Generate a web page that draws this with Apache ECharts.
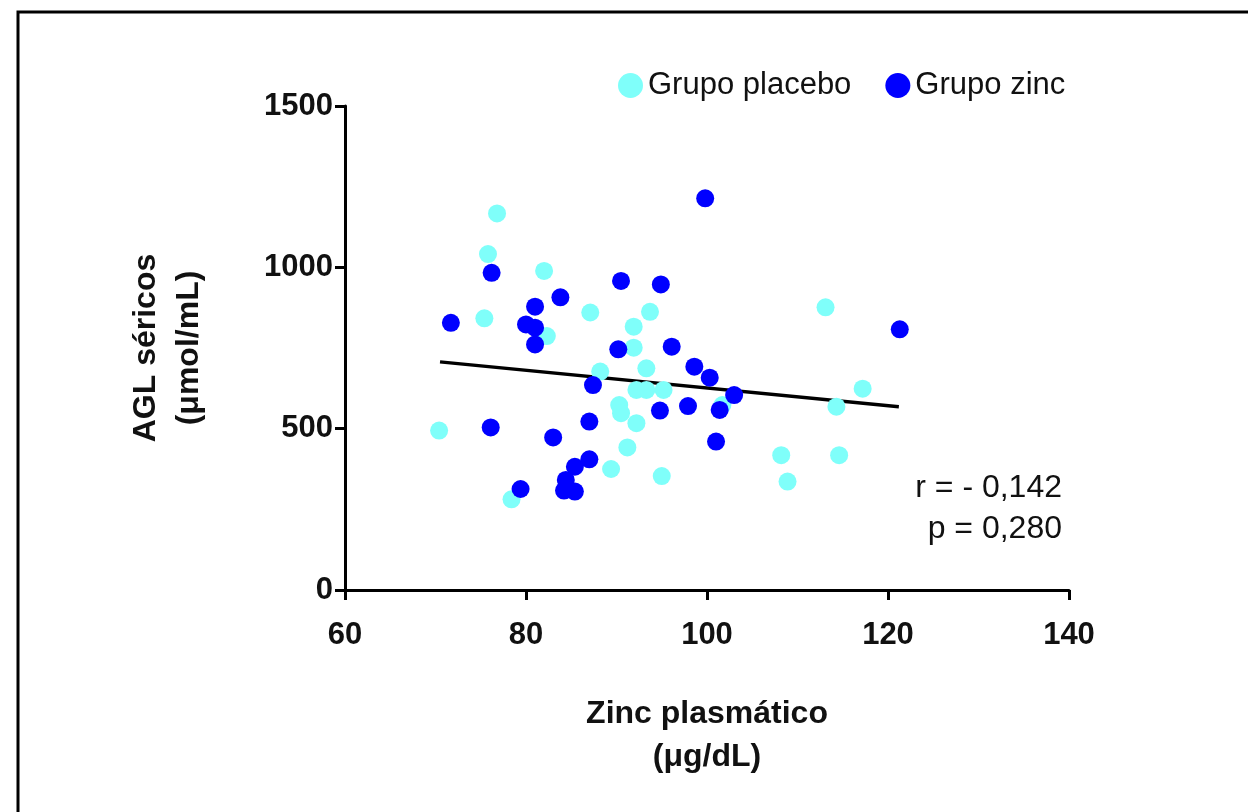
<!DOCTYPE html>
<html>
<head>
<meta charset="utf-8">
<script src="https://cdn.jsdelivr.net/npm/echarts@6/dist/echarts.min.js"></script>
<style>
  html, body { margin: 0; padding: 0; background: #fff; }
  #chart { width: 1248px; height: 812px; }
</style>
</head>
<body>
<div id="chart"></div>
<script>
// ---- Data ----
const placeboX = [76.8, 75.8, 82.0, 87.1, 75.4, 82.3, 91.9, 91.9, 88.2, 93.7, 93.3, 113.1, 92.2, 93.3, 95.2, 101.7, 114.3, 117.2, 108.2, 114.6, 95.0, 108.9, 90.3, 90.5, 92.2, 70.4, 91.2, 89.4, 78.4];
const placeboY = [1167, 1041, 989, 860, 842, 787, 816, 751, 677, 862, 687, 876, 620, 620, 620, 573, 568, 624, 418, 418, 353, 336, 573, 548, 517, 494, 442, 375, 281];
const zincX = [76.2, 90.5, 83.8, 81.0, 71.7, 80.0, 81.0, 81.0, 90.2, 99.8, 94.9, 96.1, 98.6, 100.3, 121.3, 103.0, 94.8, 97.9, 101.4, 101.0, 87.4, 87.0, 76.1, 83.0, 87.0, 85.4, 84.4, 84.2, 85.4, 79.4];
const zincY = [983, 958, 907, 878, 828, 823, 813, 761, 746, 1214, 947, 754, 692, 658, 808, 604, 556, 570, 558, 460, 635, 522, 504, 473, 405, 382, 341, 308, 305, 313];
const trendX = [70.5, 121.2];
const trendY = [707, 568];
const seriesNames = ['Grupo placebo', 'Grupo zinc'];
const xTitle = 'Zinc plasmático\n(μg/dL)';
const yTitle = 'AGL séricos\n(μmol/mL)';
const statLines = ['r = - 0,142', 'p = 0,280'];

const zip = (xs, ys) => xs.map((x, i) => [x, ys[i]]);

const FONT = '"Liberation Sans", Arial, Helvetica, sans-serif';
const chart = echarts.init(document.getElementById('chart'), null, { renderer: 'canvas' });

const axisCommon = {
  type: 'value',
  splitLine: { show: false },
  axisLine: { show: true, onZero: false, lineStyle: { color: '#000', width: 3 } },
  axisTick: { show: true, length: 10, inside: false, lineStyle: { color: '#000', width: 3 } },
  axisLabel: { color: '#111', fontFamily: FONT, fontWeight: 'bold', fontSize: 31, formatter: v => String(v) },
  nameLocation: 'middle',
  nameTextStyle: { color: '#111', fontFamily: FONT, fontWeight: 'bold', fontSize: 32, lineHeight: 43 }
};

chart.setOption({
  animation: false,
  backgroundColor: '#fff',
  grid: { left: 345, right: 179, top: 106, bottom: 222, containLabel: false },
  legend: {
    left: 613,
    top: 65,
    itemWidth: 25,
    itemHeight: 25,
    itemGap: 34,
    icon: 'circle',
    textStyle: { color: '#111', fontFamily: FONT, fontSize: 31 },
    data: seriesNames
  },
  xAxis: Object.assign({}, axisCommon, {
    min: 60, max: 140, interval: 20,
    name: xTitle,
    nameGap: 103,
    axisLabel: Object.assign({}, axisCommon.axisLabel, { margin: 30 })
  }),
  yAxis: Object.assign({}, axisCommon, {
    min: 0, max: 1500, interval: 500,
    name: yTitle,
    nameRotate: 90,
    nameGap: 134,
    axisLabel: Object.assign({}, axisCommon.axisLabel, { margin: 12 })
  }),
  series: [
    {
      name: 'trend',
      type: 'line',
      data: zip(trendX, trendY),
      symbol: 'none',
      lineStyle: { color: '#000', width: 3.5 },
      z: 1,
      silent: true
    },
    {
      name: seriesNames[0],
      type: 'scatter',
      data: zip(placeboX, placeboY),
      symbol: 'circle',
      symbolSize: 18,
      itemStyle: { color: '#7FFFFA', opacity: 1 },
      z: 2
    },
    {
      name: seriesNames[1],
      type: 'scatter',
      data: zip(zincX, zincY),
      symbol: 'circle',
      symbolSize: 18,
      itemStyle: { color: '#0000FF', opacity: 1 },
      z: 3
    }
  ],
  graphic: [
    {
      type: 'polyline',
      shape: { points: [[18, 812], [18, 12], [1248, 12]] },
      style: { stroke: '#000', lineWidth: 3, fill: null }
    },
    {
      type: 'text',
      right: 186,
      top: 472,
      style: { text: statLines[0], fill: '#111', font: '32px ' + FONT, textAlign: 'right' }
    },
    {
      type: 'text',
      right: 186,
      top: 513,
      style: { text: statLines[1], fill: '#111', font: '32px ' + FONT, textAlign: 'right' }
    }
  ]
});
</script>
</body>
</html>
